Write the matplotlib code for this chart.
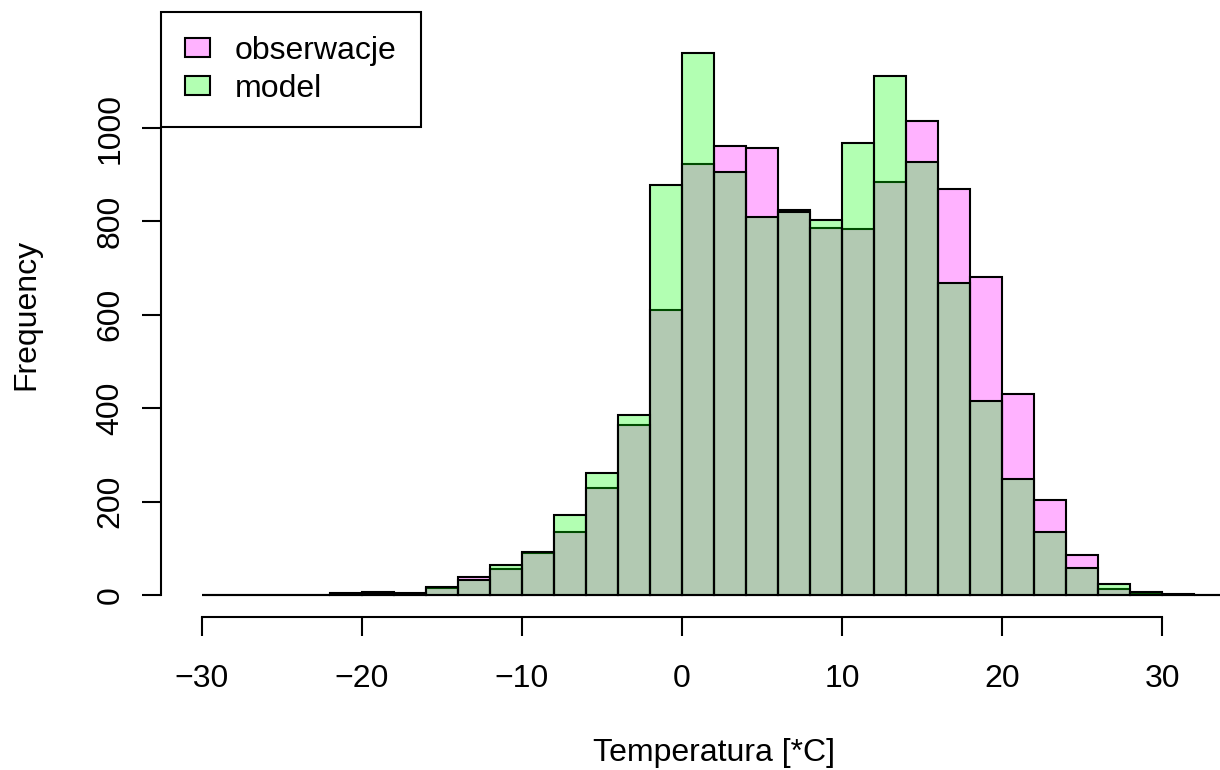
import numpy as np
import matplotlib.pyplot as plt
from matplotlib.patches import Patch

plt.rcParams['font.family'] = ['Liberation Sans', 'DejaVu Sans']

# histogram bins (width 2 degrees)
edges = list(range(-30, 36, 2))
obs = [0, 0, 0, 0, 3, 6, 3, 16, 38, 55, 90, 134, 230, 364, 610, 922,
       961, 957, 825, 785, 783, 884, 1014, 869, 680, 430, 204, 86, 13, 5, 2, 0]
model = [0, 0, 0, 0, 4, 2, 5, 17, 33, 64, 91, 172, 262, 385, 877, 1160,
         905, 809, 820, 804, 968, 1112, 928, 668, 416, 249, 134, 57, 24, 7, 1, 0]

left = np.array(edges[:-1])
W, H = 1220, 770
fig = plt.figure(figsize=(W / 100, H / 100), dpi=100)
ax = fig.add_axes([161 / W, (H - 617.4) / H, (1267 - 161) / W, (617.4 - 12.2) / H])

ax.bar(left, obs, width=2, align='edge', color=(1, 0, 1, 0.3), edgecolor='black', linewidth=1.5)
ax.bar(left, model, width=2, align='edge', color=(0, 1, 0, 0.3), edgecolor='black', linewidth=1.5)

ax.set_xlim(-32.56, 36.56)
ax.set_ylim(-48, 1248)

for s in ['top', 'right']:
    ax.spines[s].set_visible(False)
ax.spines['bottom'].set_bounds(-30, 30)
ax.spines['left'].set_bounds(0, 1000)
ax.spines['bottom'].set_linewidth(1.5)
ax.spines['left'].set_linewidth(1.5)

ax.set_xticks(range(-30, 31, 10))
ax.set_yticks(range(0, 1001, 200))
ax.tick_params(axis='both', length=13.5, width=1.5, labelsize=23)
ax.tick_params(axis='x', pad=20)
ax.tick_params(axis='y', pad=12)
for lab in ax.get_yticklabels():
    lab.set_rotation(90)
    lab.set_va('center')

ax.set_xlabel('Temperatura [*C]', fontsize=23, labelpad=32)
ax.set_ylabel('Frequency', fontsize=23, labelpad=39)

handles = [Patch(facecolor=(1, 0, 1, 0.3), edgecolor='black', linewidth=1.5),
           Patch(facecolor=(0, 1, 0, 0.3), edgecolor='black', linewidth=1.5)]
leg = ax.legend(handles, ['obserwacje', 'model'], loc='upper left',
                bbox_to_anchor=(0, 1), borderaxespad=0, fontsize=23,
                fancybox=False, framealpha=1, edgecolor='black',
                handlelength=0.8, handleheight=0.56, handletextpad=0.78,
                labelspacing=0.25, borderpad=0.74)
leg.get_frame().set_linewidth(1.5)

fig.savefig('out.png', dpi=100)
